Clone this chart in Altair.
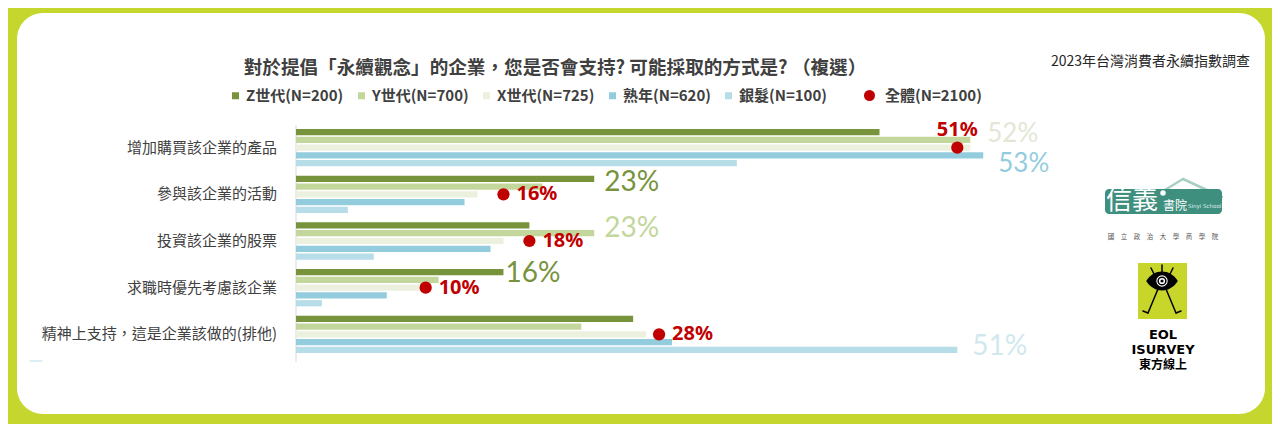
import altair as alt
import pandas as pd

# ---------------- data ----------------
categories = [
    "增加購買該企業的產品",
    "參與該企業的活動",
    "投資該企業的股票",
    "求職時優先考慮該企業",
    "精神上支持，這是企業該做的(排他)",
]
series = ["Z世代(N=200)", "Y世代(N=700)", "X世代(N=725)", "熟年(N=620)", "銀髮(N=100)"]
gen_z = [45, 23, 18, 16, 26]
gen_y = [52, 19, 23, 11, 22]
gen_x = [52, 14, 16, 10, 27]
mature = [53, 13, 15, 7, 29]
silver = [34, 4, 6, 2, 51]
overall = [51, 16, 18, 10, 28]
overall_name = "全體(N=2100)"
# highlighted big labels (category index, series index)
highlight_cat = [0, 0, 1, 2, 3, 4]
highlight_ser = [2, 3, 0, 1, 0, 4]

title_text = "對於提倡「永續觀念」的企業，您是否會支持? 可能採取的方式是? （複選）"
source_text = "2023年台灣消費者永續指數調查"

colors = ["#77933C", "#C3D69B", "#EBF1DE", "#93CDDD", "#B7DEE8"]
DOT = "#C00000"
TXT = "#404040"
LIME = "#C5D72E"
FONT = "Noto Sans CJK TC"

# ---------------- tables ----------------
def key(c, s):
    return f"{c}|{s}"


slots = []
for i, c in enumerate(categories):
    slots += [key(c, s) for s in series]
    if i < len(categories) - 1:
        slots.append(f"gap{i}")

all_vals = [gen_z, gen_y, gen_x, mature, silver]
bars = pd.DataFrame(
    [
        {"slot": key(c, s), "series": s, "value": v}
        for s, vals in zip(series, all_vals)
        for c, v in zip(categories, vals)
    ]
)
dots = pd.DataFrame(
    {
        "category": categories,
        "slot": [key(c, series[2]) for c in categories],
        "value": overall,
        "name": [overall_name] * len(categories),
        "label": [f"{v}%" for v in overall],
    }
)
hl = pd.DataFrame(
    {
        "idx": list(range(len(highlight_cat))),
        "slot": [key(categories[i], series[j]) for i, j in zip(highlight_cat, highlight_ser)],
        "series": [series[j] for j in highlight_ser],
        "value": [all_vals[j][i] for i, j in zip(highlight_cat, highlight_ser)],
    }
)
hl["label"] = hl["value"].astype(str) + "%"
cats = pd.DataFrame(
    {"category": categories, "slot": [key(c, series[2]) for c in categories]}
)
one = pd.DataFrame({"k": [0]})

# ---------------- scales ----------------
x_scale = alt.Scale(domain=[0, 60], range=[279, 1057], nice=False, zero=True)
y_scale = alt.Scale(domain=slots, range=[116, 340], paddingInner=0.2, paddingOuter=0)
color_scale = alt.Scale(domain=series, range=colors)

X = alt.X("value:Q", scale=x_scale, axis=None)
Y = alt.Y("slot:N", scale=y_scale, axis=None)

legend_common = dict(
    orient="none",
    direction="horizontal",
    labelFont=FONT,
    labelFontSize=15,
    labelFontWeight="bold",
    labelColor=TXT,
    symbolStrokeWidth=0,
    columnPadding=10,
)

bar_layer = alt.Chart(bars).mark_bar().encode(
    x=X,
    y=Y,
    color=alt.Color(
        "series:N",
        scale=color_scale,
        legend=alt.Legend(
            title=None, legendX=211, legendY=75, symbolType="square", symbolSize=49,
            labelOffset=3, **legend_common
        ),
    ),
)

axis_line = alt.Chart(one).mark_rule(color="#D9D9D9", strokeWidth=1).encode(
    x=alt.value(279), y=alt.value(112), y2=alt.value(349)
)

dot_layer = alt.Chart(dots).mark_point(filled=True, size=150, color=DOT, opacity=1).encode(
    x=X,
    y=Y,
    shape=alt.Shape(
        "name:N",
        scale=alt.Scale(domain=[overall_name], range=["circle"]),
        legend=alt.Legend(
            title=None, legendX=845, legendY=75, symbolSize=121, symbolFillColor=DOT,
            labelOffset=8, **legend_common
        ),
    ),
)

dot_label_top = (
    alt.Chart(dots)
    .transform_filter(alt.datum.category == categories[0])
    .mark_text(font="Noto Sans", fontSize=20, fontWeight="bold", color=DOT, align="center",
               baseline="middle", dy=-18)
    .encode(x=X, y=Y, text="label:N")
)
dot_label_right = (
    alt.Chart(dots)
    .transform_filter(alt.datum.category != categories[0])
    .mark_text(font="Noto Sans", fontSize=20, fontWeight="bold", color=DOT, align="left",
               baseline="middle", dx=13)
    .encode(x=X, y=Y, text="label:N")
)

# per-label styling of the large highlighted values: (dx, dy, colour, size)
hl_style = [
    (17, -14, "#E2E7D6", 26),
    (15, 9, "#93CDDD", 26),
    (10, 4, "#77933C", 28),
    (10, -4, "#C3D69B", 28),
    (2, 2, "#77933C", 28),
    (15, -3, "#D0E8EE", 28),
]
big_labels = [
    alt.Chart(hl)
    .transform_filter(alt.datum.idx == i)
    .mark_text(font="Lato", fontSize=fs, fontWeight="normal", align="left",
               baseline="middle", dx=dx, dy=dy, color=col)
    .encode(x=X, y=Y, text="label:N")
    for i, (dx, dy, col, fs) in enumerate(hl_style)
]

cat_labels = alt.Chart(cats).mark_text(
    font=FONT, fontSize=15, color=TXT, align="right", baseline="middle", dx=-19
).encode(x=alt.value(279), y=Y, text="category:N")


def deco_text(txt, x, y, size, color, weight="normal", align="center", font=FONT):
    return alt.Chart(one).mark_text(
        text=txt, fontSize=size, color=color, fontWeight=weight, align=align,
        baseline="middle", font=font,
    ).encode(x=alt.value(x), y=alt.value(y))


def deco_rule(x1, y1, x2, y2, color, w):
    return alt.Chart(one).mark_rule(color=color, strokeWidth=w, strokeCap="round").encode(
        x=alt.value(x1), y=alt.value(y1), x2=alt.value(x2), y2=alt.value(y2)
    )


def deco_rect(x1, y1, x2, y2, color, r=0):
    return alt.Chart(one).mark_rect(color=color, cornerRadius=r).encode(
        x=alt.value(x1), y=alt.value(y1), x2=alt.value(x2), y2=alt.value(y2)
    )


def deco_sym(x, y, shape, size, color, filled=True, sw=1):
    return alt.Chart(one).mark_point(
        shape=shape, size=size, filled=filled, color=color, opacity=1, strokeWidth=sw
    ).encode(x=alt.value(x), y=alt.value(y))


title = deco_text(title_text, 538, 55, 18.6, TXT, weight="bold")
source = deco_text(source_text, 1233, 49, 14, "#262626", align="right")

# Sinyi School logo
sinyi = [
    deco_rule(1138, 183, 1166, 166, "#A8CEC6", 2.5),
    deco_rule(1166, 166, 1205, 184, "#A8CEC6", 2.5),
    deco_rect(1088, 176, 1205, 201, "#3F8F7F", 4),
    deco_text("信義", 1089, 188, 26, "white", align="left"),
    deco_sym(1146, 180, "circle", 30, "white"),
    deco_text("書院", 1146, 193, 12, "white", align="left"),
    deco_text("Sinyi School", 1171, 193, 5.5, "#DDEDEA", align="left", font="DejaVu Sans"),
    deco_text("國　立　政　治　大　學　商　學　院", 1146, 224, 6.5, "#555555"),
]

# EOL iSurvey logo
eye_path = "M -1 0 C -0.5 -0.8 0.5 -0.8 1 0 C 0.5 0.8 -0.5 0.8 -1 0 Z"
eol = [
    deco_rect(1121, 250, 1170, 306, "#C8D62C"),
    deco_rule(1145, 252, 1145, 259, "black", 1.5),
    deco_rule(1134, 255, 1137, 261, "black", 1.5),
    deco_rule(1156, 255, 1153, 261, "black", 1.5),
    deco_rule(1141, 276, 1131, 300, "black", 1.5),
    deco_rule(1131, 300, 1126, 298, "black", 1.5),
    deco_rule(1149, 276, 1159, 300, "black", 1.5),
    deco_rule(1159, 300, 1164, 298, "black", 1.5),
    deco_sym(1145, 268, eye_path, 1000, "black"),
    deco_sym(1145, 268, "circle", 130, "white"),
    deco_sym(1145, 268, "circle", 60, "black", filled=False, sw=1.5),
    deco_sym(1145, 268, "circle", 10, "black"),
    deco_text("EOL", 1146, 322, 13, "black", weight="bold", font="DejaVu Sans"),
    deco_text("ISURVEY", 1146, 337, 13, "black", weight="bold", font="DejaVu Sans"),
    deco_text("東方線上", 1146, 352, 12, "black", weight="bold"),
]

tick = deco_rule(13, 348, 25, 348, "#B7DEE8", 1)

chart = (
    alt.layer(
        axis_line, bar_layer, dot_layer, dot_label_top, dot_label_right, *big_labels,
        cat_labels, title, source, tick, *sinyi, *eol,
    )
    .properties(
        width=1248,
        height=401,
        padding={"left": 9, "top": 5, "right": 7, "bottom": 10},
        autosize=alt.AutoSizeParams(type="none"),
        background=LIME,
    )
    .configure_view(fill="white", stroke="white", strokeWidth=0, cornerRadius=26)
)

chart.save("out.html", embed_options={"renderer": "svg", "actions": False})
